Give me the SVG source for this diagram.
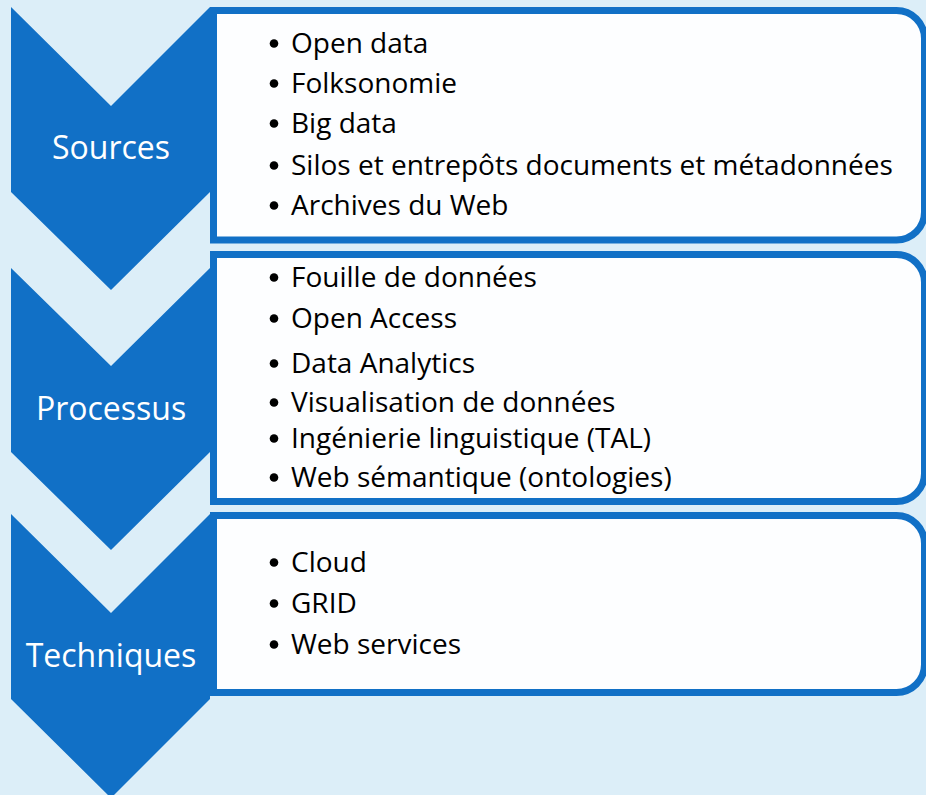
<svg xmlns="http://www.w3.org/2000/svg" width="926" height="795" viewBox="0 0 926 795">
<style>
.chev{fill:#1170C6}
.box{fill:#FDFEFF;stroke:#1170C6;stroke-width:7}
.lbl{font-family:"Open Sans","Liberation Sans",sans-serif;font-size:32px;fill:#FFFFFF;text-anchor:middle}
.item{font-family:"Open Sans","Liberation Sans",sans-serif;font-size:28px;fill:#000000}
.dot{fill:#000000}
</style>
<defs><circle id="b" r="4.3" class="dot"/></defs>
<rect x="0" y="0" width="926" height="795" fill="#DCEEF8"/>
<g id="sources">
<polygon class="chev" points="11,7 111,106 210,7 210,192 111,290 11,192"/>
<text class="lbl" x="111" y="159">Sources</text>
</g>
<g id="sources-list">
<path class="box" d="M213.5,10.5 H896.5 A28,28 0 0 1 924.5,38.5 V212 A28,28 0 0 1 896.5,240 H213.5 Z"/>
<use href="#b" x="274" y="43.5"/><text class="item" x="291" y="53">Open data</text>
<use href="#b" x="274" y="83.5"/><text class="item" x="291" y="93">Folksonomie</text>
<use href="#b" x="274" y="123.5"/><text class="item" x="291" y="133">Big data</text>
<use href="#b" x="274" y="165.5"/><text class="item" x="291" y="175">Silos et entrepôts documents et métadonnées</text>
<use href="#b" x="274" y="205.5"/><text class="item" x="291" y="215">Archives du Web</text>
</g>
<g id="processus">
<polygon class="chev" points="11,268 111,366 210,268 210,452 111,550 11,452"/>
<text class="lbl" x="111" y="420">Processus</text>
</g>
<g id="processus-list">
<path class="box" d="M213.5,254.5 H896.5 A28,28 0 0 1 924.5,282.5 V473.5 A28,28 0 0 1 896.5,501.5 H213.5 Z"/>
<use href="#b" x="274" y="277.5"/><text class="item" x="291" y="287">Fouille de données</text>
<use href="#b" x="274" y="318.5"/><text class="item" x="291" y="328">Open Access</text>
<use href="#b" x="274" y="363.5"/><text class="item" x="291" y="373">Data Analytics</text>
<use href="#b" x="274" y="402.5"/><text class="item" x="291" y="412">Visualisation de données</text>
<use href="#b" x="274" y="438.5"/><text class="item" x="291" y="448">Ingénierie linguistique (TAL)</text>
<use href="#b" x="274" y="477.5"/><text class="item" x="291" y="487">Web sémantique (ontologies)</text>
</g>
<g id="techniques">
<polygon class="chev" points="11,514 111,613 210,514 210,699 111,798 11,699"/>
<text class="lbl" x="111" y="667">Techniques</text>
</g>
<g id="techniques-list">
<path class="box" d="M213.5,515.5 H896.5 A28,28 0 0 1 924.5,543.5 V664.5 A28,28 0 0 1 896.5,692.5 H213.5 Z"/>
<use href="#b" x="274" y="562.5"/><text class="item" x="291" y="572">Cloud</text>
<use href="#b" x="274" y="603.5"/><text class="item" x="291" y="613">GRID</text>
<use href="#b" x="274" y="644.5"/><text class="item" x="291" y="654">Web services</text>
</g>
<g id="connectors"/>
</svg>
